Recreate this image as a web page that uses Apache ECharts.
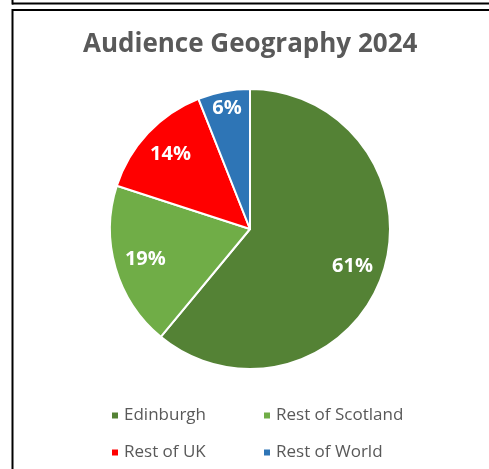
<!DOCTYPE html>
<html>
<head>
<meta charset="utf-8">
<script src="https://cdn.jsdelivr.net/npm/echarts@6/dist/echarts.min.js"></script>
<style>
html,body{margin:0;padding:0;background:#fff;}
#chart{width:489px;height:469px;}
</style>
</head>
<body>
<div id="chart"></div>
<script>
var categories = ['Edinburgh', 'Rest of Scotland', 'Rest of UK', 'Rest of World'];
var values = [61, 19, 14, 6];
var colors = ['#548235', '#70AD47', '#FF0000', '#2E75B6'];
var titleText = 'Audience Geography 2024';

var chart = echarts.init(document.getElementById('chart'), null, {renderer: 'canvas'});

var pieData = categories.map(function (c, i) {
  return {name: c, value: values[i], itemStyle: {color: colors[i]}};
});
// labels for the larger slices (placed at mid-ring of an invisible overlay)
var labelData = categories.map(function (c, i) {
  return {name: c, value: values[i], label: {show: i !== 3}};
});
// label for the small slice, placed further out
var smallLabelData = categories.map(function (c, i) {
  return {name: c, value: values[i], label: {show: i === 3}};
});

var labelStyle = {
  position: 'inside',
  formatter: '{c}%',
  color: '#ffffff',
  fontSize: 20,
  fontWeight: 'bold',
  fontFamily: 'Open Sans, sans-serif'
};

var legendText = {color: '#595959', fontSize: 17, fontFamily: 'Open Sans, sans-serif'};

function overlay(radius, data) {
  return {
    type: 'pie',
    center: [250, 229],
    radius: radius,
    startAngle: 90,
    clockwise: true,
    silent: true,
    avoidLabelOverlap: false,
    itemStyle: {color: 'rgba(0,0,0,0)', borderWidth: 0},
    label: labelStyle,
    labelLine: {show: false},
    emphasis: {disabled: true},
    tooltip: {show: false},
    legendHoverLink: false,
    data: data
  };
}

chart.setOption({
  backgroundColor: '#ffffff',
  animation: false,
  title: {
    text: titleText,
    left: 78,
    top: 27,
    textStyle: {color: '#595959', fontSize: 26, fontWeight: 'bold', fontFamily: 'Open Sans, sans-serif'}
  },
  legend: [{
    data: ['Edinburgh', 'Rest of UK'],
    orient: 'vertical',
    left: 105,
    top: 402,
    itemWidth: 8,
    itemHeight: 8,
    itemGap: 20,
    icon: 'rect',
    textStyle: legendText,
    selectedMode: false
  }, {
    data: ['Rest of Scotland', 'Rest of World'],
    orient: 'vertical',
    left: 257,
    top: 402,
    itemWidth: 8,
    itemHeight: 8,
    itemGap: 20,
    icon: 'rect',
    textStyle: legendText,
    selectedMode: false
  }],
  graphic: [
    {type: 'line', shape: {x1: 12, y1: 3.5, x2: 489, y2: 3.5}, style: {stroke: '#000', lineWidth: 2}},
    {type: 'line', shape: {x1: 12.5, y1: 0, x2: 12.5, y2: 4.5}, style: {stroke: '#000', lineWidth: 2}},
    {type: 'line', shape: {x1: 12, y1: 10, x2: 489, y2: 10}, style: {stroke: '#000', lineWidth: 2}},
    {type: 'line', shape: {x1: 12.5, y1: 9, x2: 12.5, y2: 469}, style: {stroke: '#000', lineWidth: 2}}
  ],
  series: [{
    type: 'pie',
    center: [250, 229],
    radius: [0, 140],
    startAngle: 90,
    clockwise: true,
    avoidLabelOverlap: false,
    label: {show: false},
    labelLine: {show: false},
    itemStyle: {borderColor: '#ffffff', borderWidth: 2},
    emphasis: {disabled: true},
    data: pieData
  },
  overlay([72, 140], labelData),
  overlay([100, 140], smallLabelData)
  ]
});
</script>
</body>
</html>
